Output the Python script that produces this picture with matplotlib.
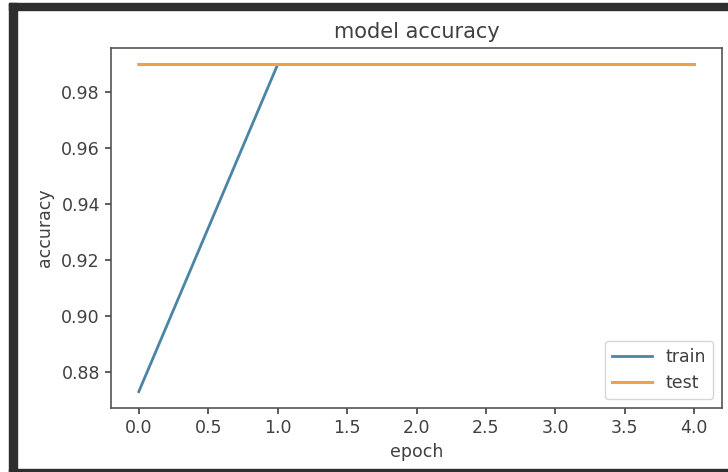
import matplotlib
matplotlib.use("Agg")
from matplotlib import pyplot as plt
from matplotlib.patches import Rectangle

epochs = [0, 1, 2, 3, 4]
train_acc = [0.873, 0.990, 0.990, 0.990, 0.990]
test_acc = [0.990, 0.990, 0.990, 0.990, 0.990]

x_ticks = [0.0, 0.5, 1.0, 1.5, 2.0, 2.5, 3.0, 3.5, 4.0]
y_ticks = [0.88, 0.90, 0.92, 0.94, 0.96, 0.98]

txt = '#404040'
plt.rcParams['font.family'] = ['DejaVu Sans']

fig = plt.figure(figsize=(7.28, 4.72), dpi=100)
ax = fig.add_axes([0.1525, 0.1356, 0.8393, 0.7624])

ax.plot(epochs, train_acc, color='#4a85a6', lw=2, label='train', snap=False)
ax.plot(epochs, test_acc, color='#f0a04a', lw=2.2, label='test', snap=False)

ax.set_xticks(x_ticks)
ax.set_yticks(y_ticks)
ax.set_xticklabels([f"{v:.1f}" for v in x_ticks])
ax.set_yticklabels([f"{v:.2f}" for v in y_ticks])
ax.tick_params(labelsize=12.5, colors=txt, length=4.5, width=1.2)
for s in ax.spines.values():
    s.set_color('#555555')
    s.set_linewidth(1.2)

ax.set_title("model accuracy", fontsize=15, color=txt, pad=7)
ax.set_xlabel("epoch", fontsize=12.5, color=txt, labelpad=4)
ax.set_ylabel("accuracy", fontsize=12.5, color=txt, labelpad=5)
leg = ax.legend(loc='lower right', fontsize=12.5, handlelength=2.3)
for t in leg.get_texts():
    t.set_color(txt)

# dark screenshot frame
W, H = 728, 472
dark = '#2e2e2e'
fig.patches.append(Rectangle((9 / W, 0), 8 / W, 1 - 3 / H, transform=fig.transFigure, color=dark, zorder=5))
fig.patches.append(Rectangle((9 / W, 1 - 10 / H), 1, 7 / H, transform=fig.transFigure, color=dark, zorder=5))
fig.patches.append(Rectangle((9 / W, 0), 1, 3 / H, transform=fig.transFigure, color=dark, zorder=5))

fig.savefig("out.png", dpi=100)
